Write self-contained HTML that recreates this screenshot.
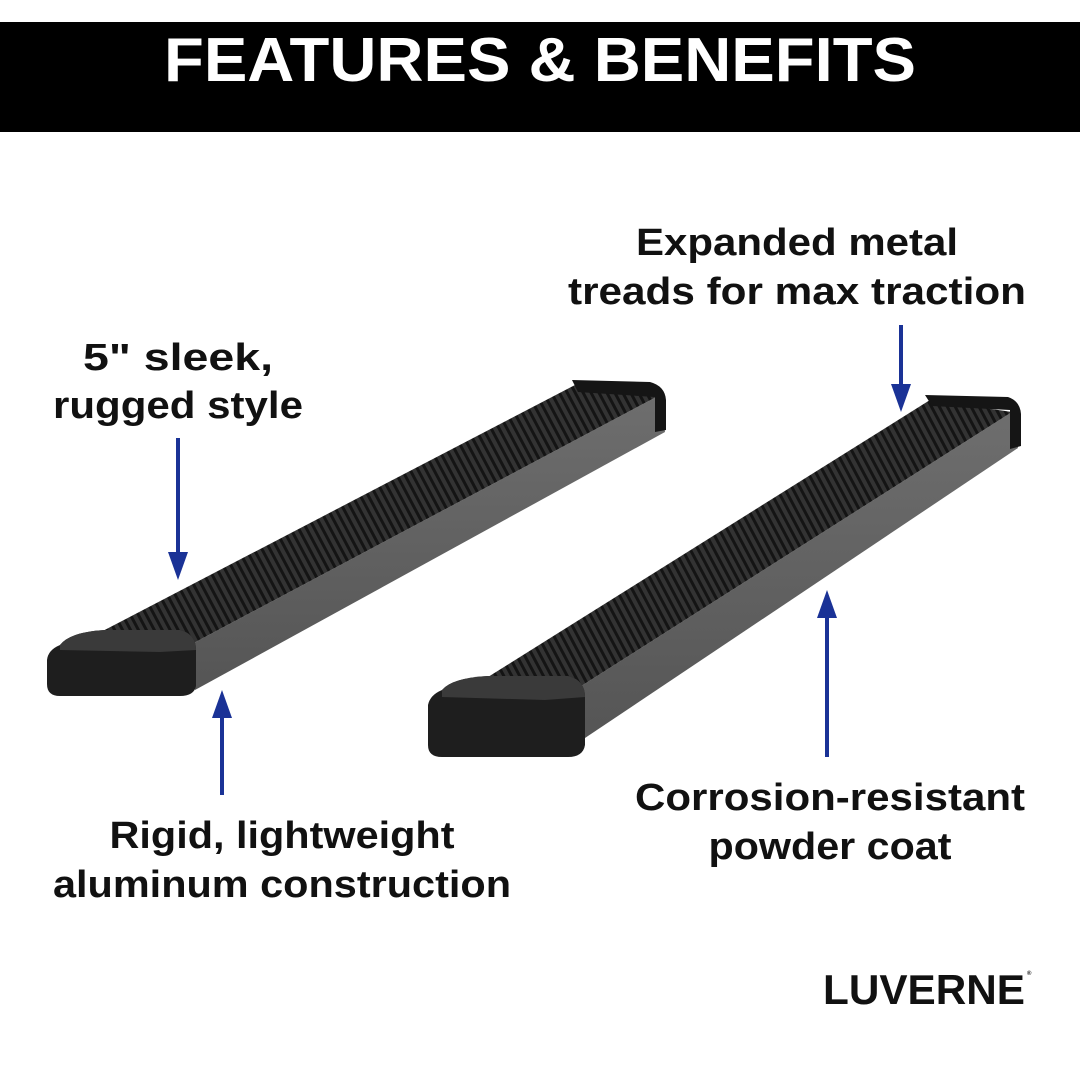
<!DOCTYPE html>
<html><head><meta charset="utf-8"><style>
html,body{margin:0;padding:0;background:#fff;}
svg{display:block}
text{font-family:"Liberation Sans",sans-serif;font-weight:bold;}
</style></head><body>
<svg width="1080" height="1080" viewBox="0 0 1080 1080" xmlns="http://www.w3.org/2000/svg">
<defs>
<linearGradient id="side" x1="0" y1="0" x2="0" y2="1">
<stop offset="0" stop-color="#6e6e6e"/><stop offset="1" stop-color="#555"/></linearGradient>
<pattern id="tread" width="7" height="7" patternUnits="userSpaceOnUse" patternTransform="rotate(-28)">
<rect width="7" height="7" fill="#333"/><rect width="3" height="7" fill="#141414"/></pattern>
</defs>
<rect x="0" y="0" width="1080" height="1080" fill="#fff"/>
<rect x="0" y="22" width="1080" height="110" fill="#000"/>
<text x="540" y="81" fill="#fff" font-size="62" text-anchor="middle" textLength="752" lengthAdjust="spacingAndGlyphs">FEATURES &amp; BENEFITS</text>

<!-- Left bar -->
<polygon points="190,645 660,395 665,432 195,690" fill="url(#side)"/>
<polygon points="95,635 575,385 660,395 190,645" fill="url(#tread)"/>
<path d="M572,380 L650,382 Q665,386 666,400 L666,430 L655,432 L655,397 L578,392 Z" fill="#151515"/>
<path d="M60,645 Q70,632 105,630 L180,630 Q196,634 196,650 L196,686 Q194,696 180,696 L60,696 Q47,696 47,684 L47,660 Q48,650 60,645 Z" fill="#1e1e1e"/>
<path d="M60,645 Q70,632 105,630 L180,630 Q196,634 196,650 L160,652 L60,650 Z" fill="#3a3a3a"/>

<!-- Right bar -->
<polygon points="575,690 1012,412 1018,448 582,740" fill="url(#side)"/>
<polygon points="480,682 930,400 1012,412 575,690" fill="url(#tread)"/>
<path d="M925,395 L1008,397 Q1020,401 1021,414 L1021,446 L1010,449 L1010,410 L932,406 Z" fill="#151515"/>
<path d="M442,690 Q452,678 488,676 L568,676 Q585,680 585,697 L585,745 Q583,757 568,757 L442,757 Q428,757 428,745 L428,705 Q430,695 442,690 Z" fill="#1e1e1e"/>
<path d="M442,690 Q452,678 488,676 L568,676 Q585,680 585,697 L545,700 L442,697 Z" fill="#3a3a3a"/>

<!-- Arrows -->
<g fill="#1a3296" stroke="#1a3296">
<line x1="178" y1="438" x2="178" y2="560" stroke-width="4"/>
<polygon points="168,552 188,552 178,580" stroke="none"/>
<line x1="222" y1="795" x2="222" y2="712" stroke-width="4"/>
<polygon points="212,718 232,718 222,690" stroke="none"/>
<line x1="901" y1="325" x2="901" y2="392" stroke-width="4"/>
<polygon points="891,384 911,384 901,412" stroke="none"/>
<line x1="827" y1="757" x2="827" y2="612" stroke-width="4"/>
<polygon points="817,618 837,618 827,590" stroke="none"/>
</g>

<!-- Labels -->
<g fill="#111" font-size="38" text-anchor="middle">
<text x="178" y="370" textLength="190" lengthAdjust="spacingAndGlyphs">5" sleek,</text>
<text x="178" y="418" textLength="250" lengthAdjust="spacingAndGlyphs">rugged style</text>
<text x="797" y="255" textLength="322" lengthAdjust="spacingAndGlyphs">Expanded metal</text>
<text x="797" y="304" textLength="458" lengthAdjust="spacingAndGlyphs">treads for max traction</text>
<text x="282" y="848" textLength="345" lengthAdjust="spacingAndGlyphs">Rigid, lightweight</text>
<text x="282" y="897" textLength="458" lengthAdjust="spacingAndGlyphs">aluminum construction</text>
<text x="830" y="810" textLength="390" lengthAdjust="spacingAndGlyphs">Corrosion-resistant</text>
<text x="830" y="859" textLength="243" lengthAdjust="spacingAndGlyphs">powder coat</text>
</g>
<text x="823" y="1004" fill="#111" font-size="42" textLength="202" lengthAdjust="spacingAndGlyphs" style="font-weight:900">LUVERNE</text>
<text x="1027" y="975" fill="#111" font-size="6">®</text>
</svg>
</body></html>
